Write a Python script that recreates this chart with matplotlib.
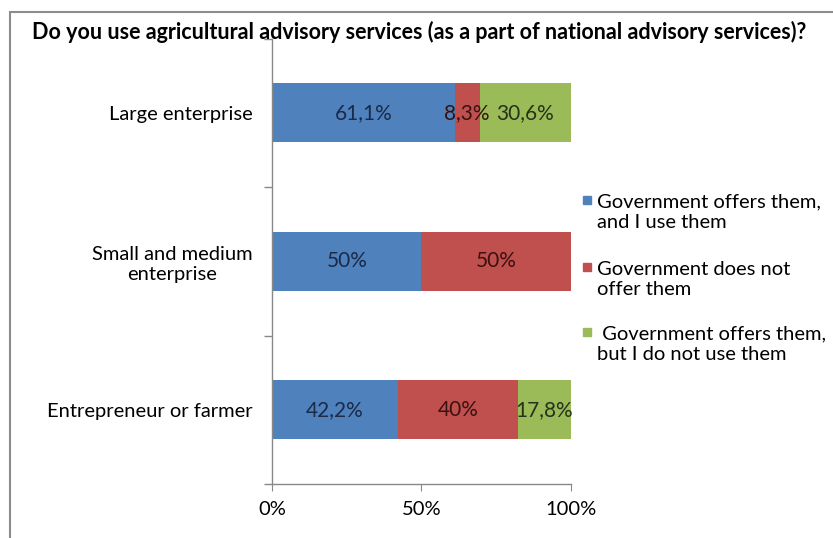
import matplotlib.pyplot as plt
from matplotlib.patches import Rectangle

plt.rcParams['font.family'] = ['Lato', 'DejaVu Sans']

# 데이터
categories = ["Large enterprise", "Small and medium\nenterprise", "Entrepreneur or farmer"]
series_names = ["Government offers them,\nand I use them",
                "Government does not\noffer them",
                " Government offers them,\nbut I do not use them"]
uses = [61.1, 50, 42.2]
not_offered = [8.3, 50, 40]
offered_not_used = [30.6, 0, 17.8]
labels_uses = ["61,1%", "50%", "42,2%"]
labels_not_offered = ["8,3%", "50%", "40%"]
labels_offered_not_used = ["30,6%", "", "17,8%"]

colors = ["#4F81BD", "#C0504D", "#9BBB59"]
text_colors = ["#1B2A47", "#3A1111", "#26321A"]

W, H = 833, 538
fig = plt.figure(figsize=(W / 100, H / 100), dpi=100)
fig.patch.set_facecolor("white")

# 바깥 테두리
fig.patches.append(Rectangle((10 / W, -0.1), 1.2, 1.1 - 12 / H, transform=fig.transFigure,
                             fill=False, edgecolor="#8c8c8c", linewidth=1.5))

ax = fig.add_axes([272 / W, 1 - 484 / H, (571 - 272) / W, (484 - 38.5) / H])

ypos = [2, 1, 0]
series = [uses, not_offered, offered_not_used]
texts = [labels_uses, labels_not_offered, labels_offered_not_used]
left = [0, 0, 0]
for i in range(3):
    bars = ax.barh(ypos, series[i], left=left, height=0.4, color=colors[i])
    for b, t in zip(bars, texts[i]):
        if t:
            ax.text(b.get_x() + b.get_width() / 2, b.get_y() + b.get_height() / 2, t,
                    ha="center", va="center", fontsize=15, color=text_colors[i])
    left = [l + v for l, v in zip(left, series[i])]

ax.set_xlim(0, 100)
ax.set_ylim(-0.5, 2.5)
ax.set_xticks([0, 50, 100])
ax.set_xticklabels(["0%", "50%", "100%"], fontsize=14.5)
ax.set_yticks(ypos)
ax.set_yticklabels(categories, fontsize=14.5, multialignment="center")
ax.set_yticks([-0.5, 0.5, 1.5, 2.5], minor=True)
ax.tick_params(axis="y", which="major", length=0, pad=14)
ax.tick_params(axis="y", which="minor", length=6, color="#888888", width=1)
ax.tick_params(axis="x", length=5, color="#888888", pad=7)
for s in ["top", "right"]:
    ax.spines[s].set_visible(False)
for s in ["left", "bottom"]:
    ax.spines[s].set_color("#888888")
    ax.spines[s].set_linewidth(1)

# 제목
fig.text(32 / W, 1 - 32 / H, "Do you use agricultural advisory services (as a part of national advisory services)?",
         fontsize=15.5, fontweight="bold", ha="left", va="center")

# 범례
leg_y = [200, 267, 332]
for i in range(3):
    fig.patches.append(Rectangle((583 / W, 1 - (leg_y[i] + 4) / H), 8 / W, 8 / H,
                                 transform=fig.transFigure, color=colors[i]))
    fig.text(597 / W, 1 - (leg_y[i] + 12.5) / H, series_names[i], fontsize=14.5,
             ha="left", va="center", linespacing=1.25)

fig.savefig("out.png", dpi=100)
